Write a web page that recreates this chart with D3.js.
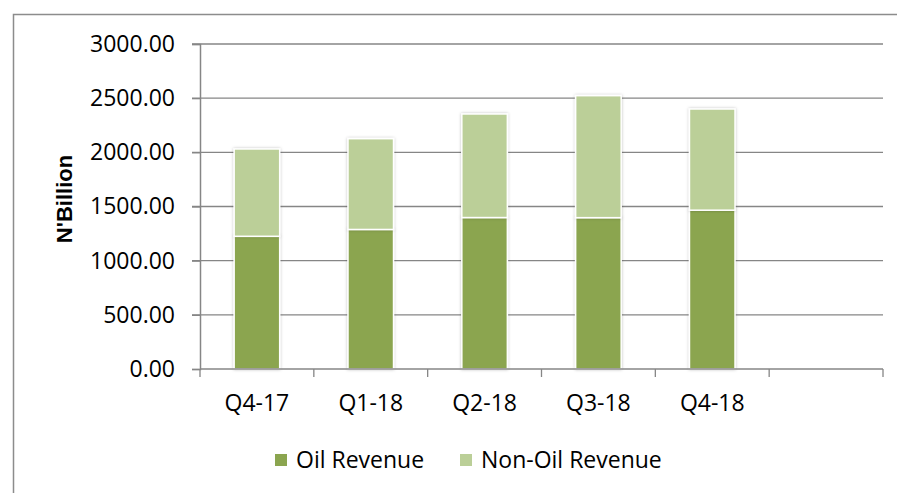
<!DOCTYPE html>
<html>
<head>
<meta charset="utf-8">
<script src="https://cdn.jsdelivr.net/npm/d3@7"></script>
<style>
  body { margin: 0; background: #fff; }
  svg { display: block; }
</style>
</head>
<body>
<div id="vis"></div>
<script>
const quarters = ["Q4-17", "Q1-18", "Q2-18", "Q3-18", "Q4-18"];
const oilRevenue = [1225, 1288, 1398, 1397, 1466];
const nonOilRevenue = [806, 838, 956, 1126, 934];
const yTicks = [0, 500, 1000, 1500, 2000, 2500, 3000];
const seriesNames = ["Oil Revenue", "Non-Oil Revenue"];
const seriesColors = ["#8BA54F", "#BBCF98"];

const FRAME_WIDTH = 897;
const FRAME_HEIGHT = 493;
const MARGINS = {left: 200, right: 14, top: 44, bottom: 124};
const FONT = "'Open Sans', Lato, sans-serif";

const FRAME = d3.select("#vis")
                .append("svg")
                .attr("width", FRAME_WIDTH)
                .attr("height", FRAME_HEIGHT);

// outer chart border (runs off the picture right and bottom)
FRAME.append("rect")
     .attr("x", 13.5).attr("y", 14.5)
     .attr("width", 1000).attr("height", 600)
     .attr("fill", "#fff")
     .attr("stroke", "#8c8c8c")
     .attr("stroke-width", 1.5);

// x domain has an extra empty slot at the end, as in the original
const X_SCALE = d3.scaleBand()
                  .domain(quarters.concat([" "]))
                  .range([MARGINS.left, FRAME_WIDTH - MARGINS.right])
                  .paddingInner(0.6)
                  .paddingOuter(0.3);

const BAND_STEP = X_SCALE.step();

const Y_SCALE = d3.scaleLinear()
                  .domain([0, 3000])
                  .range([FRAME_HEIGHT - MARGINS.bottom, MARGINS.top]);

// gridlines
FRAME.append("g")
     .selectAll("line")
     .data(yTicks.slice(1))
     .enter()
     .append("line")
       .attr("x1", MARGINS.left - 8)
       .attr("x2", FRAME_WIDTH - MARGINS.right)
       .attr("y1", d => Y_SCALE(d))
       .attr("y2", d => Y_SCALE(d))
       .attr("stroke", "#868686")
       .attr("stroke-width", 1.3);

// shadow for bars
const defs = FRAME.append("defs");
const filt = defs.append("filter").attr("id", "shadow")
                 .attr("x", "-20%").attr("y", "-20%")
                 .attr("width", "140%").attr("height", "140%");
filt.append("feDropShadow")
    .attr("dx", 0).attr("dy", 0)
    .attr("stdDeviation", 1.5)
    .attr("flood-color", "#000")
    .attr("flood-opacity", 0.25);

// stacked bars
const rows = quarters.map((q, i) => ({q: q, oil: oilRevenue[i], nonOil: nonOilRevenue[i]}));
const stacked = d3.stack().keys(["oil", "nonOil"])(rows);

const barGroups = FRAME.append("g")
     .selectAll("g")
     .data(stacked)
     .enter()
     .append("g")
       .attr("fill", (d, i) => seriesColors[i]);

barGroups.selectAll("rect")
     .data(d => d)
     .enter()
     .append("rect")
       .attr("x", d => X_SCALE(d.data.q))
       .attr("width", X_SCALE.bandwidth())
       .attr("y", d => Y_SCALE(d[1]))
       .attr("height", d => Y_SCALE(d[0]) - Y_SCALE(d[1]))
       .attr("stroke", "#fff")
       .attr("stroke-width", 1.5)
       .attr("filter", "url(#shadow)");

// y axis
const yAxis = FRAME.append("g")
     .attr("transform", "translate(" + MARGINS.left + ",0)")
     .call(d3.axisLeft(Y_SCALE).tickValues(yTicks).tickSize(8).tickPadding(17)
             .tickFormat(d3.format(".2f")));
yAxis.select(".domain").attr("stroke", "#868686").attr("stroke-width", 1.5);
yAxis.selectAll(".tick line").attr("stroke", "#868686").attr("stroke-width", 1.3);
yAxis.selectAll("text")
     .attr("font-family", FONT)
     .attr("font-size", "23px")
     .attr("fill", "#000");

// x axis, ticks on category boundaries
const xBase = Y_SCALE(0);
const xAxis = FRAME.append("g");
xAxis.append("line")
     .attr("x1", MARGINS.left).attr("x2", FRAME_WIDTH - MARGINS.right)
     .attr("y1", xBase).attr("y2", xBase)
     .attr("stroke", "#868686").attr("stroke-width", 1.5);
xAxis.selectAll(".xtick")
     .data(d3.range(quarters.length + 2))
     .enter()
     .append("line")
       .attr("x1", i => MARGINS.left + i * BAND_STEP)
       .attr("x2", i => MARGINS.left + i * BAND_STEP)
       .attr("y1", xBase).attr("y2", xBase + 8)
       .attr("stroke", "#868686").attr("stroke-width", 1.3);
xAxis.selectAll(".xlabel")
     .data(quarters)
     .enter()
     .append("text")
       .attr("x", d => X_SCALE(d) + X_SCALE.bandwidth() / 2)
       .attr("y", xBase + 34)
       .attr("dy", "0.35em")
       .attr("text-anchor", "middle")
       .attr("font-family", FONT)
       .attr("font-size", "23px")
       .text(d => d);

// y axis title
FRAME.append("text")
     .attr("transform", "translate(72,199) rotate(-90)")
     .attr("text-anchor", "middle")
     .attr("font-family", "'Liberation Sans', Arial, sans-serif")
     .attr("font-weight", "bold")
     .attr("font-size", "22px")
     .text("N'Billion");

// legend
const legendX = [275, 460];
const legend = FRAME.append("g")
     .selectAll("g")
     .data(seriesNames)
     .enter()
     .append("g")
       .attr("transform", (d, i) => "translate(" + legendX[i] + ",460)");
legend.append("rect")
      .attr("x", 0).attr("y", -6)
      .attr("width", 12).attr("height", 12)
      .attr("fill", (d, i) => seriesColors[i]);
legend.append("text")
      .attr("x", 21)
      .attr("dy", "0.35em")
      .attr("font-family", FONT)
      .attr("font-size", "23px")
      .text(d => d);
</script>
</body>
</html>
